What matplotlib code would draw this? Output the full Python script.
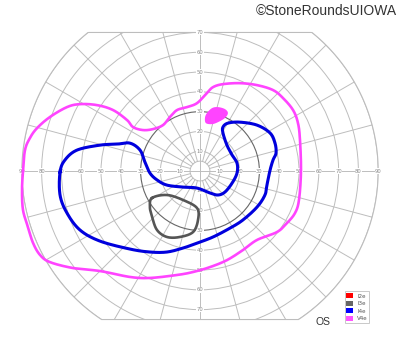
import numpy as np
import matplotlib
matplotlib.use("Agg")
import matplotlib.pyplot as plt
from matplotlib.patches import Circle, Polygon, Patch

# ---- data (degrees of visual field, x = temporal/nasal, y = superior/inferior)
ring_degrees = [10, 20, 30, 40, 50, 60, 70, 80, 90]
h_labels = [10, 20, 30, 40, 50, 60, 70, 80, 90]
v_labels = [10, 20, 30, 40, 50, 60, 70]
meridian_step = 15

v4e_x = [-89.4, -88.4, -85.9, -82.3, -75.8, -67.2, -60.6, -52.0, -43.9, -36.9, -33.8, -28.8,
         -23.7, -18.7, -15.2, -11.6, -6.6, -1.5, 3.5, 6.6, 11.6, 20.2, 28.8, 36.9, 41.9, 47.0,
         49.5, 50.5, 51.0, 50.0, 48.0, 43.9, 38.9, 28.8, 21.7, 13.6, 5.1, -3.5, -11.6, -25.3,
         -35.4, -50.5, -64.1, -75.8, -80.8, -84.3, -86.9, -89.4, -89.9]
v4e_y = [0.0, 10.6, 16.7, 21.7, 27.3, 32.3, 33.8, 33.3, 30.8, 25.8, 22.2, 20.7,
         21.2, 23.2, 27.3, 30.8, 32.3, 34.3, 39.4, 42.4, 43.9, 44.4, 43.4, 40.9, 36.9, 30.8,
         24.2, 15.7, 0.0, -14.6, -21.2, -26.3, -30.8, -34.8, -39.9, -45.0, -48.5, -51.0, -52.5, -54.0,
         -53.5, -50.5, -49.0, -46.0, -42.4, -36.4, -28.3, -19.7, -9.6]

v4e_spot_x = [3.5, 6.1, 9.1, 12.6, 14.1, 12.6, 9.1, 6.1, 3.0, 2.5]
v4e_spot_y = [29.3, 31.8, 32.3, 31.3, 29.3, 26.8, 24.7, 23.7, 24.2, 26.8]

i4e_x = [-70.7, -68.2, -62.1, -50.5, -41.9, -35.4, -30.3, -27.8, -25.3, -21.7, -16.7, -8.6,
         -1.5, 5.1, 9.1, 12.6, 16.2, 18.7, 18.7, 16.2, 13.6, 11.6, 11.6, 14.1, 20.2, 28.8,
         35.4, 37.9, 38.4, 36.9, 35.4, 33.8, 32.8, 28.8, 21.7, 15.2, 6.6, -1.5, -8.6, -16.7,
         -25.3, -35.4, -50.5, -60.6, -67.2, -70.7]
i4e_y = [-0.5, 5.6, 10.6, 13.1, 13.6, 14.1, 10.6, 4.5, -1.0, -4.5, -7.1, -8.1,
         -8.6, -11.1, -12.1, -10.6, -6.1, -1.0, 4.0, 8.1, 13.1, 19.2, 22.2, 24.2, 24.7, 23.2,
         19.2, 14.1, 9.1, 5.6, 0.5, -7.1, -12.1, -18.2, -24.7, -28.8, -33.3, -36.4, -38.9, -40.9,
         -40.9, -39.4, -35.4, -29.8, -21.2, -12.1]

i3e_x = [-24.2, -16.7, -8.6, -1.5, -1.0, -3.5, -10.1, -16.7, -21.7, -24.2, -25.3]
i3e_y = [-13.6, -12.1, -14.6, -18.7, -24.7, -30.8, -33.3, -33.3, -29.8, -23.2, -18.2]

legend_labels = ["I2e", "I3e", "I4e", "V4e"]
legend_colors = ["#ff0000", "#666666", "#0000ff", "#ff55ff"]

TOP_LIMIT = 70
BOTTOM_LIMIT = -75
OUTER = 90


def closed_spline(xs, ys, n=20):
    p = np.column_stack([xs, ys])
    m = len(p)
    out = []
    for i in range(m):
        p0, p1, p2, p3 = p[(i - 1) % m], p[i], p[(i + 1) % m], p[(i + 2) % m]
        t = np.linspace(0, 1, n, endpoint=False)[:, None]
        seg = 0.5 * ((2 * p1) + (-p0 + p2) * t + (2 * p0 - 5 * p1 + 4 * p2 - p3) * t ** 2
                     + (-p0 + 3 * p1 - 3 * p2 + p3) * t ** 3)
        out.append(seg)
    out = np.vstack(out)
    return np.vstack([out, out[:1]])


fig = plt.figure(figsize=(4.0, 3.52), dpi=100)
ax = fig.add_axes([0, 0, 1, 1])
ax.set_xlim(-101.0, 101.0)
ax.set_ylim(-91.4, 86.4)
ax.set_aspect("equal")
ax.axis("off")

# boundary
th = np.linspace(-np.pi, np.pi, 721)
bx = OUTER * np.cos(th)
by = np.clip(OUTER * np.sin(th), BOTTOM_LIMIT, TOP_LIMIT)
boundary = Polygon(np.column_stack([bx, by]), closed=True, fill=False,
                   edgecolor="#bdbdbd", lw=0.8, zorder=1)
ax.add_patch(boundary)

grid_col = "#bdbdbd"
for r in [5] + ring_degrees:
    if r == 30:
        c = Circle((0, 0), r, fill=False, edgecolor="#666666", lw=0.8, zorder=2)
    else:
        c = Circle((0, 0), r, fill=False, edgecolor=grid_col, lw=0.7, zorder=1)
    ax.add_patch(c)
    c.set_clip_path(boundary)

for a in range(0, 360, meridian_step):
    ang = np.deg2rad(a)
    r0 = 0 if a % 90 == 0 else 5
    ln, = ax.plot([r0 * np.cos(ang), 100 * np.cos(ang)], [r0 * np.sin(ang), 100 * np.sin(ang)],
                  color=grid_col, lw=0.7, zorder=1)
    ln.set_clip_path(boundary)

lab_kw = dict(fontsize=3.8, color="#8a8a8a", ha="center", va="center", zorder=3,
              bbox=dict(facecolor="white", edgecolor="none", pad=0.15))
for v in h_labels:
    ax.text(v, 0, str(v), **lab_kw)
    ax.text(-v, 0, str(v), **lab_kw)
for v in v_labels:
    ax.text(0, v, str(v), **lab_kw)
    ax.text(0, -v, str(v), **lab_kw)

# isopters
s = closed_spline(v4e_x, v4e_y)
ax.plot(s[:, 0], s[:, 1], color="#ff44ff", lw=1.9, zorder=5, solid_capstyle="round")
s = closed_spline(v4e_spot_x, v4e_spot_y, 10)
ax.fill(s[:, 0], s[:, 1], color="#ff44ff", lw=0, zorder=5)
s = closed_spline(i4e_x, i4e_y)
ax.plot(s[:, 0], s[:, 1], color="#0000dd", lw=2.2, zorder=6)
s = closed_spline(i3e_x, i3e_y)
ax.plot(s[:, 0], s[:, 1], color="#555555", lw=1.9, zorder=6)

# text
fig.text(0.9925, 0.99, "\u00a9StoneRoundsUIOWA", ha="right", va="top", fontsize=10,
         family="Liberation Sans", color="#333333")
fig.text(0.807, 0.085, "OS", ha="center", va="center", fontsize=7.5,
         family="Liberation Sans", color="#333333")

handles = [Patch(facecolor=c, edgecolor="none") for c in legend_colors]
leg = fig.legend(handles, legend_labels, loc="upper left", bbox_to_anchor=(0.862, 0.172),
                 fontsize=4.0, handlelength=1.1, handleheight=1.1, handletextpad=0.8,
                 labelspacing=0.35, borderpad=0.3, frameon=True, fancybox=False,
                 edgecolor="#bbbbbb", borderaxespad=0)
leg.get_frame().set_linewidth(0.7)
for t in leg.get_texts():
    t.set_color("#555555")

fig.savefig("out.png", dpi=100)
